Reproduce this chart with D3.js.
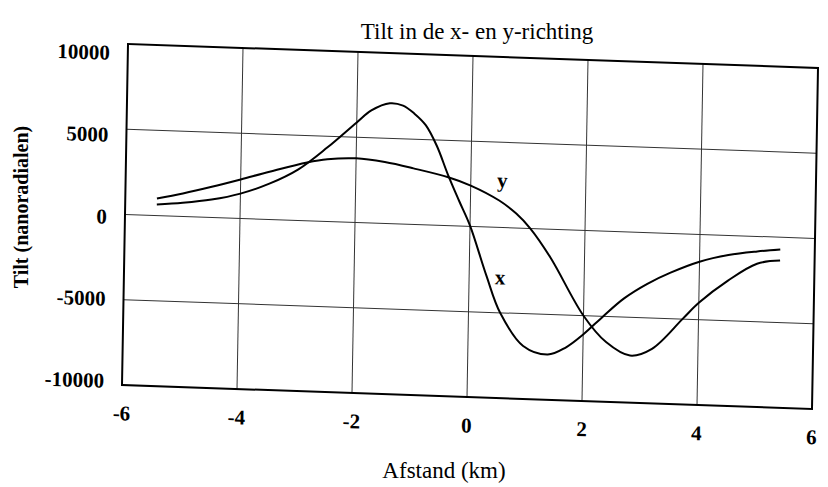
<!DOCTYPE html>
<html>
<head>
<meta charset="utf-8">
<script src="https://cdn.jsdelivr.net/npm/d3@7"></script>
<style>
  body { margin: 0; background: #fff; }
  text { font-family: "Liberation Serif", "DejaVu Serif", serif; fill: #000; }
</style>
</head>
<body>
<div class="tilt-plot"></div>
<script>
// afstand (km) en tilt (nanoradialen)
var xAfstand = [-5.45, -5, -4.5, -4, -3.5, -3, -2.5, -2, -1.75, -1.43, -1.2, -1, -0.8, -0.6, -0.4, -0.2, 0, 0.3, 0.55, 0.96, 1.39, 1.7, 2, 2.34, 2.7, 3.1, 3.5, 4, 4.5, 5, 5.4];
var xTilt    = [650, 800, 1050, 1460, 2100, 3000, 4350, 5870, 6600, 7060, 6950, 6500, 5850, 4650, 3000, 1500, 50, -2850, -5000, -6900, -7350, -6900, -6100, -5000, -3900, -3000, -2300, -1600, -1150, -880, -720];

var yAfstand = [-5.45, -5, -4.5, -4, -3.5, -2.85, -2.5, -2, -1.5, -1, -0.38, 0, 0.5, 0.8, 1.05, 1.41, 2, 2.4, 2.82, 3.2, 3.72, 4, 4.5, 5, 5.4];
var yTilt    = [1000, 1350, 1800, 2290, 2800, 3420, 3650, 3760, 3600, 3290, 2830, 2400, 1580, 850, 0, -1670, -5000, -6500, -7240, -6800, -5000, -4010, -2650, -1600, -1370];

var xTicks = [-6, -4, -2, 0, 2, 4, 6];
var yTicks = [-10000, -5000, 0, 5000, 10000];

const width = 828;
const height = 487;
const pw = 690, ph = 341;

var svg = d3.select('.tilt-plot')
  .append('svg')
  .attr('width', width)
  .attr('height', height);

// de scan staat scheef, dus het hele plotvlak krijgt een lichte schuine transformatie
var plot = svg.append('g')
  .attr('transform', 'matrix(1,0.0347,-0.0176,1,128,44)');

var x = d3.scaleLinear().domain([-6, 6]).range([0, pw]);
var y = d3.scaleLinear().domain([-10000, 10000]).range([ph, 0]);
var yLab = d3.scaleLinear().domain([-10000, 10000]).range([337, 9]);

// rasterlijnen
plot.selectAll('.vgrid')
  .data(xTicks.slice(1, -1))
  .enter()
  .append('line')
  .attr('x1', d => x(d)).attr('x2', d => x(d))
  .attr('y1', 0).attr('y2', ph)
  .attr('stroke', '#333')
  .attr('stroke-width', 1);

plot.selectAll('.hgrid')
  .data(yTicks.slice(1, -1))
  .enter()
  .append('line')
  .attr('x1', 0).attr('x2', pw)
  .attr('y1', d => y(d)).attr('y2', d => y(d))
  .attr('stroke', '#333')
  .attr('stroke-width', 1);

plot.append('rect')
  .attr('x', 0).attr('y', 0)
  .attr('width', pw).attr('height', ph)
  .attr('fill', 'none')
  .attr('stroke', '#000')
  .attr('stroke-width', 2);

var line = d3.line()
  .x(d => x(d[0]))
  .y(d => y(d[1]))
  .curve(d3.curveCatmullRom.alpha(0.5));

plot.append('path')
  .attr('d', line(d3.zip(xAfstand, xTilt)))
  .attr('fill', 'none')
  .attr('stroke', '#000')
  .attr('stroke-width', 2);

plot.append('path')
  .attr('d', line(d3.zip(yAfstand, yTilt)))
  .attr('fill', 'none')
  .attr('stroke', '#000')
  .attr('stroke-width', 2);

// reeks-labels
plot.append('text')
  .attr('x', x(0.55)).attr('y', y(2786))
  .attr('text-anchor', 'middle')
  .attr('dy', '0.35em')
  .attr('font-size', '21px')
  .attr('font-weight', 'bold')
  .text('y');

plot.append('text')
  .attr('x', x(0.54)).attr('y', y(-2900))
  .attr('text-anchor', 'middle')
  .attr('dy', '0.35em')
  .attr('font-size', '21px')
  .attr('font-weight', 'bold')
  .text('x');

// as-labels
plot.selectAll('.ylab')
  .data(yTicks)
  .enter()
  .append('text')
  .attr('x', -18)
  .attr('y', d => yLab(d))
  .attr('dy', '0.35em')
  .attr('text-anchor', 'end')
  .attr('font-size', '21px')
  .attr('font-weight', 'bold')
  .text(d => d);

plot.selectAll('.xlab')
  .data(xTicks)
  .enter()
  .append('text')
  .attr('x', d => x(d))
  .attr('y', ph + 28)
  .attr('dy', '0.35em')
  .attr('text-anchor', 'middle')
  .attr('font-size', '21px')
  .attr('font-weight', 'bold')
  .text(d => d);

svg.append('text')
  .attr('x', 477).attr('y', 39)
  .attr('text-anchor', 'middle')
  .attr('font-size', '23px')
  .text('Tilt in de x- en y-richting');

svg.append('text')
  .attr('x', 444).attr('y', 478)
  .attr('text-anchor', 'middle')
  .attr('font-size', '23px')
  .text('Afstand (km)');

svg.append('text')
  .attr('transform', 'translate(28,207) rotate(-90)')
  .attr('text-anchor', 'middle')
  .attr('font-size', '20px')
  .attr('font-weight', 'bold')
  .text('Tilt (nanoradialen)');
</script>
</body>
</html>
